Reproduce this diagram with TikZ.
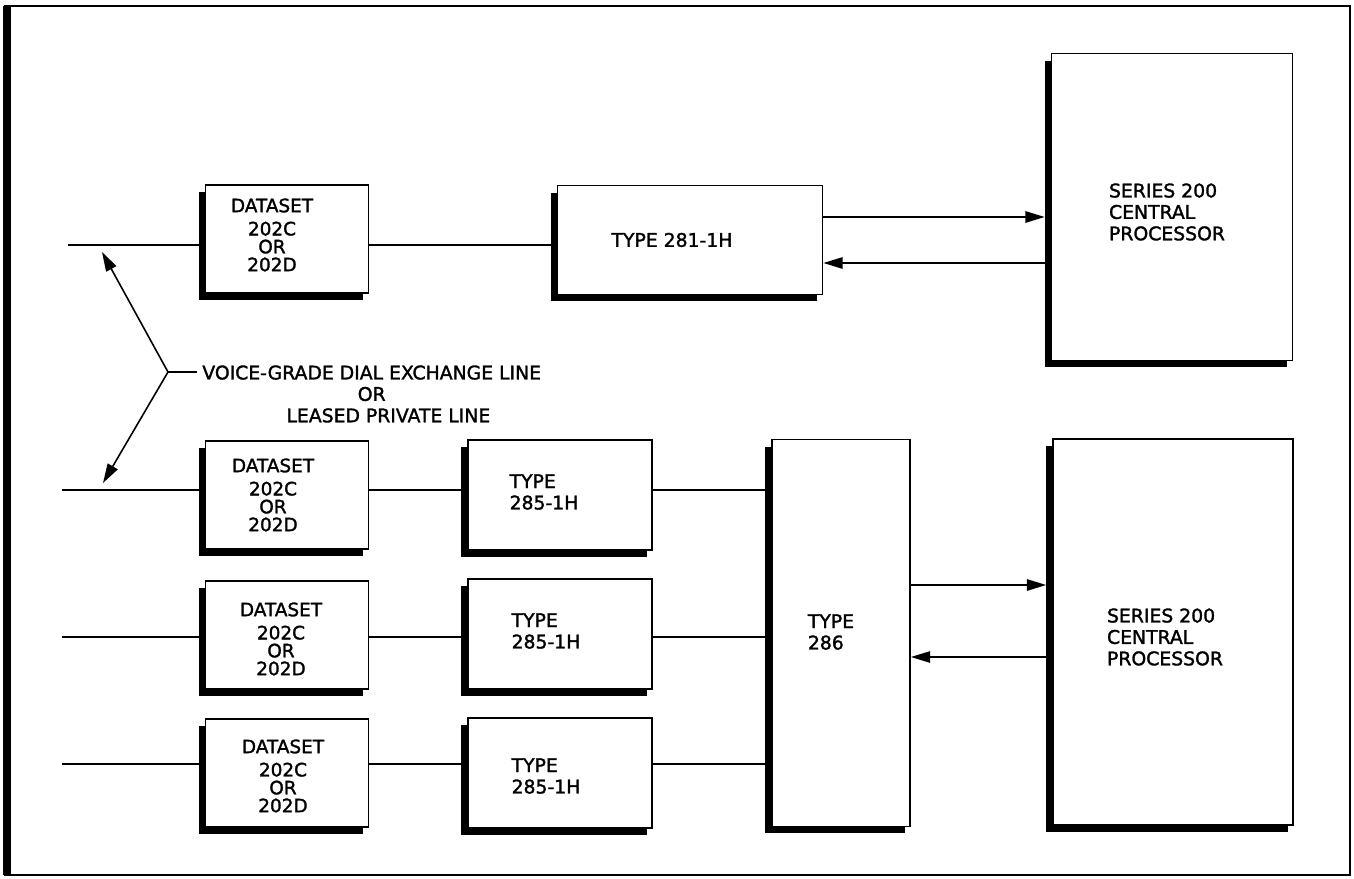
\documentclass[tikz,border=0pt]{standalone}
\usepackage{fontspec}
\setmainfont{DejaVu Sans}[FakeBold=1.6]
\usetikzlibrary{arrows.meta}

\begin{document}
\begin{tikzpicture}[x=0.02cm, y=-0.02cm, >={Triangle[length=11pt,width=6.5pt]},
    blk/.style={draw, line width=1pt, fill=white, inner sep=0pt},
    dsbox/.style={blk, minimum width=3.26cm, minimum height=2.16cm},
    adapt/.style={blk, minimum width=3.68cm, minimum height=2.2cm},
    lbl/.style={font=\fontsize{10.7}{12.2}\selectfont, inner sep=0pt},
    dstxt/.style={lbl, align=center, font=\fontsize{10.5}{10.2}\selectfont},
    wire/.style={line width=0.9pt},
    shade/.style={line width=3.4pt}]
    \useasboundingbox (0,0) rectangle (1354,878);

    % outer frame
    \draw[line width=0.8pt] (5,6) rectangle (1350,875);
    \draw[line width=4pt] (7,6) -- (7,875);

    % upper chain
    \node[dsbox] (ds1) at (287,239) {};
    \node[blk, minimum width=5.30cm, minimum height=2.18cm] (t281) at (690,240) {};
    \node[blk, minimum width=4.82cm, minimum height=6.14cm] (cpu1) at (1172,207) {};

    % lower chain
    \node[dsbox] (ds2) at (287,495) {};
    \node[dsbox] (ds3) at (287,635) {};
    \node[dsbox] (ds4) at (287,773) {};
    \node[adapt] (t2) at (560,495) {};
    \node[adapt] (t3) at (560,634) {};
    \node[adapt] (t4) at (560,773) {};
    \node[blk, minimum width=2.76cm, minimum height=7.74cm] (t286) at (841,633) {};
    \node[blk, minimum width=4.80cm, minimum height=7.72cm] (cpu2) at (1173,632) {};

    % heavy edges on the left and bottom of every box
    \foreach \n in {ds1,t281,cpu1,ds2,ds3,ds4,t2,t3,t4,t286,cpu2}
        \draw[shade] ([shift={(-3,8)}]\n.north west) -- ([shift={(-3,3)}]\n.south west)
            -- ([shift={(-6,3)}]\n.south east);

    % box texts
    \node[dstxt] (l1) at ([shift={(-15,-4)}]ds1.center) {DATASET\\[3pt]202C\\OR\\202D};
    \node[dstxt] (l2) at ([shift={(-14,0)}]ds2.center) {DATASET\\[3pt]202C\\OR\\202D};
    \node[dstxt] (l3) at ([shift={(-6,4)}]ds3.center) {DATASET\\[3pt]202C\\OR\\202D};
    \node[dstxt] (l4) at ([shift={(-4,3)}]ds4.center) {DATASET\\[3pt]202C\\OR\\202D};
    \node[lbl] (l281) at ([shift={(-18,0)}]t281.center) {TYPE 281-1H};
    \node[lbl, align=left] (l5) at ([shift={(-16,-3)}]t2.center) {TYPE\\285-1H};
    \node[lbl, align=left] (l6) at ([shift={(-14,-3)}]t3.center) {TYPE\\285-1H};
    \node[lbl, align=left] (l7) at ([shift={(-14,3)}]t4.center) {TYPE\\285-1H};
    \node[lbl, align=left] (l286) at ([shift={(-10,-1)}]t286.center) {TYPE\\286};
    \node[lbl, align=left] (lc1) at ([shift={(-5,5)}]cpu1.center) {SERIES 200\\CENTRAL\\PROCESSOR};
    \node[lbl, align=left] (lc2) at ([shift={(-8,5)}]cpu2.center) {SERIES 200\\CENTRAL\\PROCESSOR};

    % lines in the upper chain
    \coordinate (in1) at (68,245);
    \draw[wire] (in1) -- (in1 -| ds1.west);
    \draw[wire] (in1 -| ds1.east) -- (in1 -| t281.west);
    \coordinate (up1) at (900,217);
    \coordinate (dn1) at (900,263);
    \draw[wire,->,shorten >=3.4pt] (up1 -| t281.east) -- (up1 -| cpu1.west);
    \draw[wire,->] (dn1 -| cpu1.west) -- (dn1 -| t281.east);

    % lines in the lower chain
    \foreach \n/\y in {2/490, 3/637, 4/764} {
        \coordinate (in\n) at (62,\y);
        \draw[wire] (in\n) -- (in\n -| ds\n.west);
        \draw[wire] (in\n -| ds\n.east) -- (in\n -| t\n.west);
        \draw[wire] (in\n -| t\n.east) -- (in\n -| t286.west);
    }
    \coordinate (up2) at (960,585);
    \coordinate (dn2) at (960,657);
    \draw[wire,->,shorten >=3.4pt] (up2 -| t286.east) -- (up2 -| cpu2.west);
    \draw[wire,->] (dn2 -| cpu2.west) -- (dn2 -| t286.east);

    % line note
    \node[lbl, align=center, anchor=west] (voice) at (202,394)
        {VOICE-GRADE DIAL EXCHANGE LINE\\OR\\\hspace*{19pt}LEASED PRIVATE LINE};
    \coordinate (fork) at (168,372);
    \coordinate (tipa) at (102,252);
    \coordinate (tipb) at (103,483);
    \draw[wire,shorten >=3pt] (fork) -- (fork -| voice.west);
    \draw[wire,->] (fork) -- (tipa);
    \draw[wire,->] (fork) -- (tipb);
\end{tikzpicture}
\end{document}
